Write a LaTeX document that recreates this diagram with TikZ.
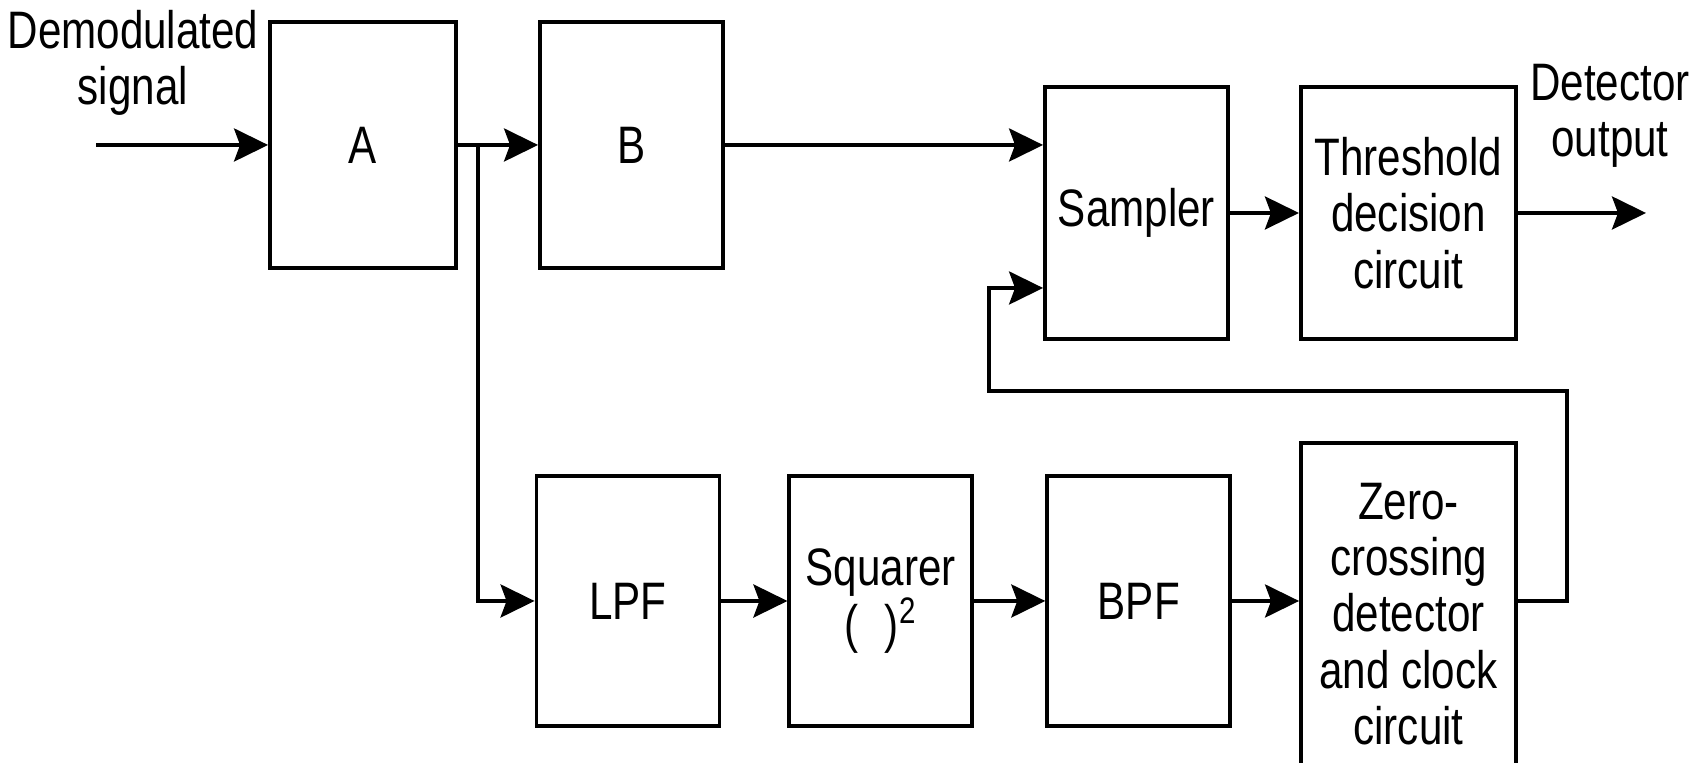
\documentclass[tikz,border=0pt]{standalone}
\usepackage{fontspec}
\setmainfont[FakeStretch=0.8]{Liberation Sans}
\usetikzlibrary{arrows.meta,positioning,calc}

\begin{document}
\begin{tikzpicture}[
  every node/.style={draw, line width=1.1pt, minimum width=18.3mm, minimum height=25mm, align=center, inner sep=0pt, font=\fontsize{15}{16}\selectfont},
  arr/.style={-{Stealth[length=3.4mm, width=3.3mm, inset=0.6mm]}, line width=1.1pt},
  lbl/.style={draw=none, minimum width=0, minimum height=0},
]
  \clip (0,0) rectangle (17.04,7.63);

  % Upper branch
  \node (a) at (3.63,6.18) [minimum width=18.6mm, minimum height=24.6mm] {A};
  \node (b) at (6.315,6.18) [minimum height=24.6mm] {B};
  \node (smp) at (11.365,5.50) [minimum height=25.2mm] {Sampler};
  \node[right=6.9mm of smp, minimum width=21.5mm, minimum height=25.2mm] (thr) {Threshold\\decision\\circuit};

  % Clock recovery branch
  \node (lpf) at (6.28,1.62) {LPF};
  \node[right=6.6mm of lpf] (sq) {Squarer\\(\enspace)\textsuperscript{2}};
  \node[right=7.1mm of sq] (bpf) {BPF};
  \node (zc) at (14.085,1.49) [minimum width=21.5mm, minimum height=34.2mm] {Zero-\\crossing\\detector\\and clock\\circuit};

  % Labels
  \node[lbl] (din) at (1.33,7.00) {Demodulated\\signal};
  \node[lbl] (dout) at (16.10,6.47) {Detector\\output};

  \coordinate (in) at (0.96,6.18);
  \coordinate (out) at (16.46,5.50);
  \coordinate (br) at (4.78,6.18);
  \coordinate (fbr) at (15.67,3.72);
  \coordinate (fbl) at (9.89,4.75);

  \draw[arr] (in) -- (a);
  \draw[arr] (a) -- (b);
  \draw[arr] (b) -- (b -| smp.west);
  \draw[arr] (smp) -- (thr);
  \draw[arr] (thr) -- (out);
  \draw[arr] (br) |- (lpf);
  \draw[arr] (lpf) -- (sq);
  \draw[arr] (sq) -- (bpf);
  \draw[arr] (bpf) -- (bpf -| zc.west);
  \draw[arr] (bpf -| zc.east) -| (fbr) -| (fbl) -- (fbl -| smp.west);
\end{tikzpicture}
\end{document}
